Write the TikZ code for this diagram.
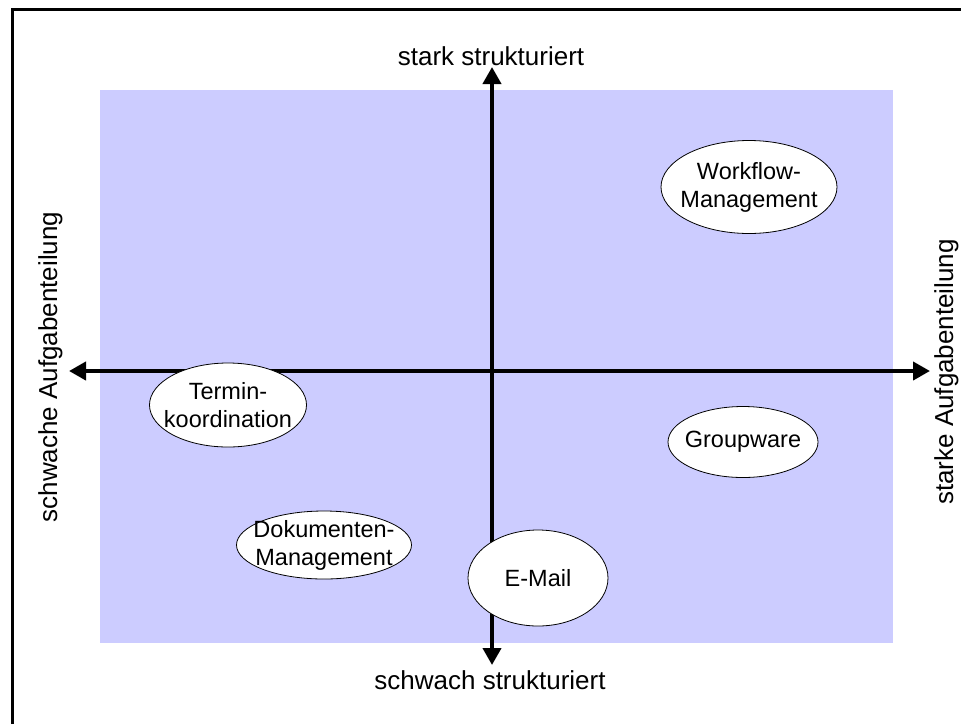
\documentclass[tikz,border=0pt]{standalone}
\usepackage{fontspec}
\setmainfont{Liberation Sans}
\usetikzlibrary{arrows.meta,shapes.geometric}
\definecolor{fieldblue}{HTML}{CCCCFF}
\tikzset{
  axis/.style={line width=4pt,{Triangle[width=18pt,length=17pt]}-{Triangle[width=18pt,length=17pt]}},
  topic/.style={ellipse,draw=black,line width=0.8pt,fill=white,inner sep=0pt},
  topictext/.style={inner sep=0pt,align=center,font=\fontsize{23.5}{28}\selectfont},
  axislabel/.style={inner sep=0pt,font=\fontsize{26}{30}\selectfont},
}
\begin{document}
\begin{tikzpicture}[x=1pt,y=-1pt]
\useasboundingbox (0,0) rectangle (961,724);
% outer frame (only top and left edges visible)
\draw[line width=3pt] (12,724) -- (12,9) -- (961,9);
% coloured field
\fill[fieldblue] (100,90) rectangle (893,643);
% axis end points
\coordinate (left) at (69,371);
\coordinate (right) at (930,371);
\coordinate (top) at (492,67);
\coordinate (bottom) at (492,665);
\draw[axis] (left) -- (right);
\draw[axis] (top) -- (bottom);
% axis labels
\node[axislabel,anchor=base] (ltop) at (491,65) {stark strukturiert};
\node[axislabel,anchor=base] (lbot) at (490,689) {schwach strukturiert};
\node[axislabel,anchor=base,rotate=90] (lleft) at (57,367) {schwache Aufgabenteilung};
\node[axislabel,anchor=base,rotate=90] (lright) at (953,372) {starke Aufgabenteilung};
% topics: fixed-size ellipses with centred captions
\node[topic,minimum width=176pt,minimum height=93pt,
  label={[topictext]center:{Workflow-\\Management}}] (wf) at (749,187) {};
\node[topic,minimum width=157pt,minimum height=84pt,
  label={[topictext]center:{Termin-\\koordination}}] (tk) at (228,405) {};
\node[topic,minimum width=150pt,minimum height=71pt,
  label={[topictext]center:{Groupware}}] (gw) at (743,442) {};
\node[topic,minimum width=175pt,minimum height=68pt,
  label={[topictext]center:{Dokumenten-\\Management}}] (dm) at (324,545) {};
\node[topic,minimum width=140pt,minimum height=96pt,
  label={[topictext]center:{E-Mail}}] (em) at (538,578) {};
\end{tikzpicture}
\end{document}
